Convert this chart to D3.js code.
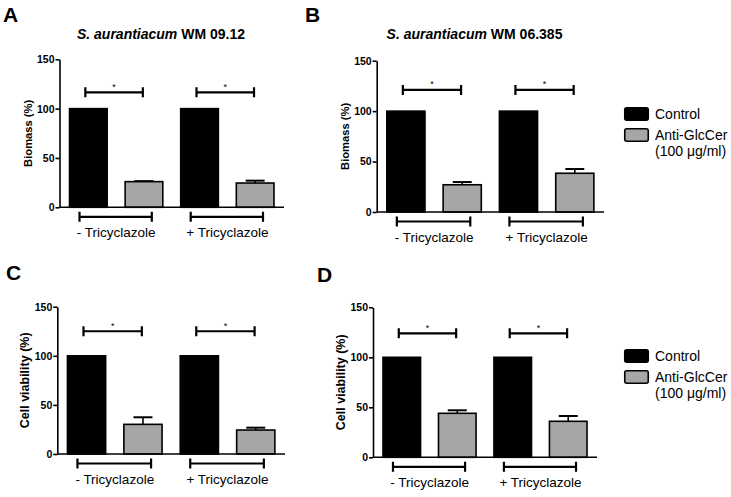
<!DOCTYPE html>
<html>
<head>
<meta charset="utf-8">
<script src="https://cdn.jsdelivr.net/npm/d3@7"></script>
<style>
  html, body { margin: 0; padding: 0; background: #fff; }
  svg { display: block; font-family: "Liberation Sans", Arial, sans-serif; }
</style>
</head>
<body>
<svg id="chart" width="731" height="497"></svg>
<script>
// ---------- data ----------
const categories = ["- Tricyclazole", "+ Tricyclazole"];
const seriesNames = ["Control", "Anti-GlcCer"];
const legendLabels = ["Control", "Anti-GlcCer", "(100 \u03bcg/ml)"];
const yTicks = [0, 50, 100, 150];
const panelLetters = ["A", "B", "C", "D"];
const titleItalic = ["S. aurantiacum", "S. aurantiacum", "", ""];
const titleRest = [" WM 09.12", " WM 06.385", "", ""];
const yLabels = ["Biomass (%)", "Biomass (%)", "Cell viability (%)", "Cell viability (%)"];
const controlValues = [[100, 100], [100, 100], [100, 100], [100, 100]];
const antiValues = [[26, 24.6], [27, 38.4], [30.2, 24.4], [44, 36]];
const antiErrors = [[0.5, 2.4], [2.7, 4.2], [7.2, 2.4], [3, 5.3]];
const bracketLevels = [116.5, 121, 125, 124];
const showLegend = [false, true, false, true];

// ---------- layout (styles/positions) ----------
const layout = [
  { x0: 59.5, x1: 284, yTop: 59.3, yBot: 207.3, letterX: 3, letterY: 22, titleX: 161, titleY: 39, ylFont: 11.2 },
  { x0: 376.7, x1: 604, yTop: 60.7, yBot: 212, letterX: 305, letterY: 22, titleX: 474.5, titleY: 38.5, ylFont: 11.2 },
  { x0: 57.3, x1: 285, yTop: 306.7, yBot: 454, letterX: 6, letterY: 280, titleX: 0, titleY: 0, ylFont: 12.5 },
  { x0: 373, x1: 597, yTop: 307.3, yBot: 457.3, letterX: 317, letterY: 282, titleX: 0, titleY: 0, ylFont: 12.5 }
];
const legendPos = [null, { x: 624, y: 107 }, null, { x: 624, y: 349 }];
const colors = { Control: "#000000", "Anti-GlcCer": "#a6a6a6" };

const svg = d3.select("#chart");

layout.forEach((L, i) => {
  const g = svg.append("g");
  const y = d3.scaleLinear().domain([0, 150]).range([L.yBot, L.yTop]);
  const x = d3.scaleBand().domain(categories).range([L.x0, L.x1])
    .paddingInner(0.161).paddingOuter(0.09);
  const xi = d3.scaleBand().domain(seriesNames).range([0, x.bandwidth()])
    .paddingInner(0.323).paddingOuter(0);

  // panel letter
  g.append("text").attr("x", L.letterX).attr("y", L.letterY)
    .attr("font-size", 21).attr("font-weight", "bold").text(panelLetters[i]);

  // title
  if (titleItalic[i]) {
    const t = g.append("text").attr("x", L.titleX).attr("y", L.titleY)
      .attr("text-anchor", "middle").attr("font-size", 14).attr("font-weight", "bold");
    t.append("tspan").attr("font-style", "italic").text(titleItalic[i]);
    t.append("tspan").text(titleRest[i]);
  }

  // bars
  const rows = categories.map((c, k) => ({ cat: c, vals: [controlValues[i][k], antiValues[i][k]], err: antiErrors[i][k] }));
  rows.forEach(r => {
    const gx = x(r.cat);
    const ex = gx + xi("Anti-GlcCer") + xi.bandwidth() / 2;
    const vTop = r.vals[1] + r.err;
    g.append("line").attr("x1", ex).attr("x2", ex).attr("y1", y(r.vals[1])).attr("y2", y(vTop))
      .attr("stroke", "#000").attr("stroke-width", 1.6);
    g.append("line").attr("x1", ex - 9.5).attr("x2", ex + 9.5).attr("y1", y(vTop)).attr("y2", y(vTop))
      .attr("stroke", "#000").attr("stroke-width", 2);
    seriesNames.forEach((s, k) => {
      g.append("rect")
        .attr("x", gx + xi(s)).attr("width", xi.bandwidth())
        .attr("y", y(r.vals[k])).attr("height", y(0) - y(r.vals[k]))
        .attr("fill", colors[s]).attr("stroke", "#000").attr("stroke-width", 1.6);
    });
    // significance bracket
    const bx1 = gx + xi("Control") + xi.bandwidth() * 0.42;
    const bx2 = gx + xi("Anti-GlcCer") + xi.bandwidth() * 0.47;
    const by = y(bracketLevels[i]);
    g.append("path").attr("d", `M${bx1},${by - 5}V${by + 5}M${bx1},${by}H${bx2}M${bx2},${by - 5}V${by + 5}`)
      .attr("fill", "none").attr("stroke", "#000").attr("stroke-width", 2.2);
    g.append("text").attr("x", (bx1 + bx2) / 2).attr("y", by - 2.5).attr("text-anchor", "middle")
      .attr("font-size", 9).text("*");
    // group bracket under axis
    const gx1 = gx + 10, gx2 = gx + x.bandwidth() - 11;
    const gy = L.yBot + 9.5;
    g.append("path").attr("d", `M${gx1},${gy - 5}V${gy + 5}M${gx1},${gy}H${gx2}M${gx2},${gy - 5}V${gy + 5}`)
      .attr("fill", "none").attr("stroke", "#000").attr("stroke-width", 2.2);
    g.append("text").attr("x", gx + x.bandwidth() / 2).attr("y", L.yBot + 29.5)
      .attr("text-anchor", "middle").attr("font-size", 13.5).text(r.cat);
  });

  // axes
  const ya = g.append("g").attr("transform", `translate(${L.x0},0)`)
    .call(d3.axisLeft(y).tickValues(yTicks).tickSize(4).tickPadding(1).tickSizeOuter(0));
  ya.select(".domain").attr("stroke-width", 1.6);
  ya.selectAll(".tick line").attr("stroke-width", 1.6);
  ya.selectAll(".tick text").attr("font-size", 10.5).attr("font-weight", "bold")
    .attr("font-family", "Liberation Sans, Arial, sans-serif").attr("fill", "#000");
  g.append("line").attr("x1", L.x0).attr("x2", L.x1).attr("y1", L.yBot).attr("y2", L.yBot)
    .attr("stroke", "#000").attr("stroke-width", 1.6);

  // y label
  g.append("text")
    .attr("transform", `translate(${L.x0 - 28},${(L.yTop + L.yBot) / 2}) rotate(-90)`)
    .attr("text-anchor", "middle").attr("font-size", L.ylFont).attr("font-weight", "bold")
    .text(yLabels[i]);

  // legend
  if (showLegend[i]) {
    const P = legendPos[i];
    const lg = g.append("g").attr("transform", `translate(${P.x},${P.y})`);
    seriesNames.forEach((s, k) => {
      lg.append("rect").attr("x", 0.75).attr("y", k * 21 + 0.75).attr("width", 23.5).attr("height", 12.5)
        .attr("rx", 2).attr("fill", colors[s]).attr("stroke", "#000").attr("stroke-width", 1.6);
    });
    legendLabels.forEach((t, k) => {
      lg.append("text").attr("x", 31).attr("y", 12 + (k === 0 ? 0 : 21 + (k - 1) * 16))
        .attr("font-size", 14).text(t);
    });
  }
});
</script>
</body>
</html>
